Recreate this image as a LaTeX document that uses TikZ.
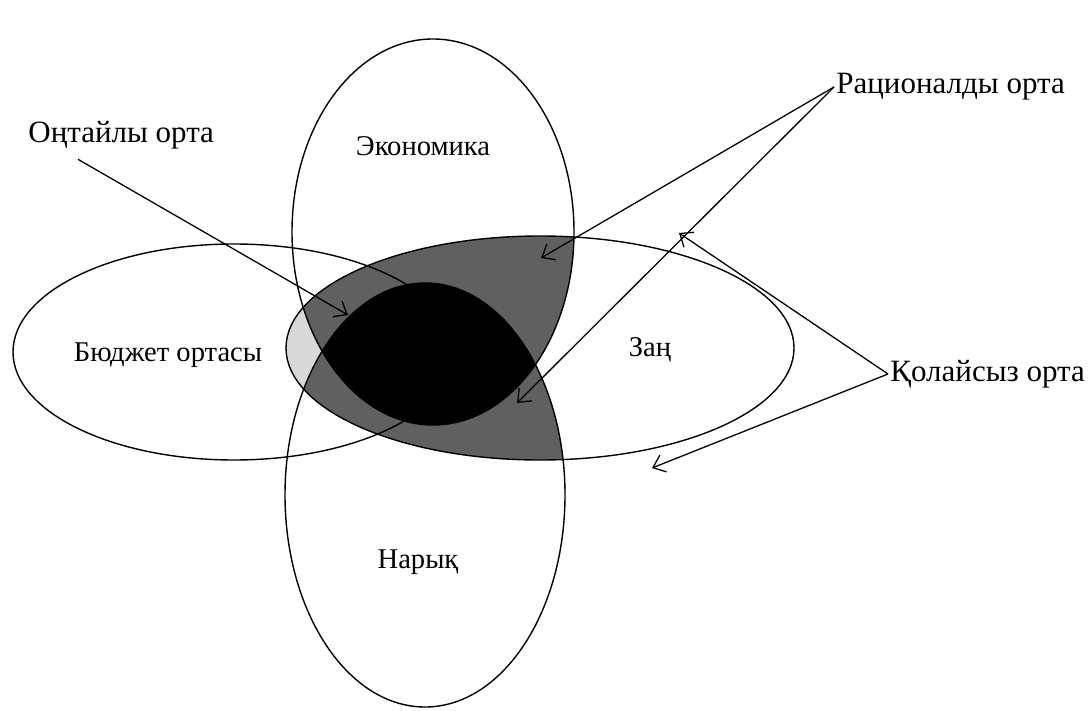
\documentclass[tikz,border=0pt]{standalone}
\usepackage{fontspec}
\setmainfont{Liberation Serif}
\usepackage{tikz}
\usetikzlibrary{arrows.meta}
\tikzstyle{pointer} = [->, >={Straight Barb[length=5.5pt,width=9pt]}, line width=0.65pt]
\tikzstyle{ring} = [draw=black, line width=0.7pt]
\tikzstyle{inlabel} = [font=\fontsize{14.3}{16}\selectfont]
\tikzstyle{outlabel} = [font=\fontsize{15.5}{18}\selectfont, inner sep=1pt]
\definecolor{darkzone}{RGB}{96,96,96}
\definecolor{lightzone}{RGB}{217,217,217}

\def\economyset{(433,232) ellipse [x radius=141, y radius=193]}
\def\marketset{(425,495) ellipse [x radius=140, y radius=212]}
\def\lawset{(540,348) ellipse [x radius=254, y radius=112]}
\def\budgetset{(234,352) ellipse [x radius=221, y radius=108]}

\begin{document}
\begin{tikzpicture}[x=0.5pt, y=-0.5pt]
\useasboundingbox (0,0) rectangle (1091,711);

% shaded zones
\begin{scope}
  \clip \lawset;
  \fill[lightzone] \budgetset;
  \fill[darkzone] \economyset \marketset;
\end{scope}

% the four sets
\draw[ring] \economyset;
\draw[ring] \marketset;
\draw[ring] \lawset;
\draw[ring] \budgetset;

% common core
\begin{scope}
  \clip \economyset;
  \fill[black] \marketset;
\end{scope}

\node[inlabel] (economy) at (423,146) {Экономика};
\node[inlabel] (budget)  at (168,355) {Бюджет ортасы};
\node[inlabel] (law)     at (650,350) {Заң};
\node[inlabel] (market)  at (418,562) {Нарық};

\node[outlabel, anchor=west] (optimal)  at (26,135) {Оңтайлы орта};
\node[outlabel, anchor=west] (rational) at (834,87) {Рационалды орта};
\node[outlabel, anchor=west] (adverse)  at (888,374) {Қолайсыз орта};

\coordinate (optTip)  at (348,315);
\coordinate (ratTipA) at (541,258);
\coordinate (ratTipB) at (517,403);
\coordinate (qolTipA) at (679,233);
\coordinate (qolTipB) at (652,468);

\draw[pointer] ([xshift=26pt,yshift=-4pt]optimal.south west) -- (optTip);
\draw[pointer] (rational.west) -- (ratTipA);
\draw[pointer] (rational.west) -- (ratTipB);
\draw[pointer] (adverse.west) -- (qolTipA);
\draw[pointer] (adverse.west) -- (qolTipB);

\end{tikzpicture}
\end{document}
